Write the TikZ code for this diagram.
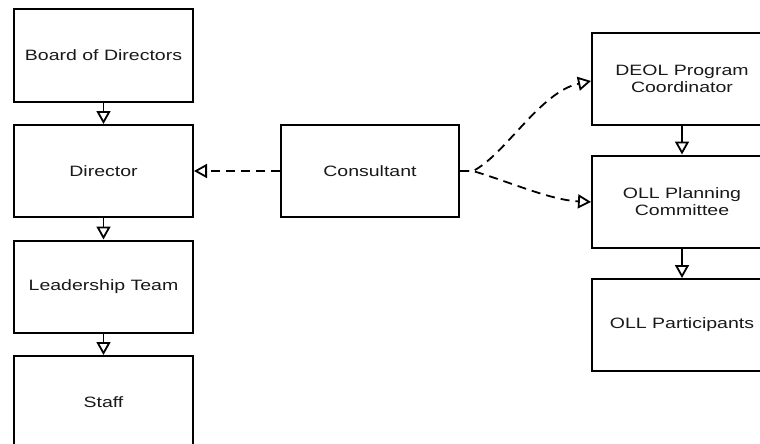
\documentclass[tikz,border=0pt]{standalone}
\usepackage{fontspec}
\setmainfont{Liberation Sans}[FakeStretch=1.3]
\usetikzlibrary{arrows.meta}
\begin{document}
\begin{tikzpicture}[x=1pt,y=-1pt,
  box/.style={draw=black, line width=2pt, fill=white, minimum width=179pt, minimum height=92pt, align=center, inner sep=0pt, font=\fontsize{15}{17.5}\selectfont, text=black!90},
  solidarrow/.style={line width=1.8pt, -{Triangle[open, fill=white, length=13pt, width=14pt]}},
  dasharrow/.style={line width=1.8pt, dash pattern=on 9pt off 6pt, -{Triangle[open, fill=white, length=13pt, width=14pt]}}]
\clip (0,0) rectangle (760,444);
\fill[white] (0,0) rectangle (760,444);
\node[box] (board) at (103.5,55.5) {Board of Directors};
\node[box] (director) at (103.5,171) {Director};
\node[box] (lead) at (103.5,286.5) {Leadership Team};
\node[box] (staff) at (103.5,402) {Staff};
\node[box, minimum width=178pt] (cons) at (370,171) {Consultant};
\node[box, minimum width=180pt] (deol) at (682,79) {DEOL Program\\Coordinator};
\node[box, minimum width=180pt] (plan) at (682,201.5) {OLL Planning\\Committee};
\node[box, minimum width=180pt] (part) at (682,325) {OLL Participants};
\draw[solidarrow] (board) -- (director);
\draw[solidarrow] (director) -- (lead);
\draw[solidarrow] (lead) -- (staff);
\draw[solidarrow] (deol) -- (plan);
\draw[solidarrow] (plan) -- (part);
\draw[dasharrow] (cons) -- (director);
\coordinate (split) at (473,171);
\draw[dasharrow] (cons.east) -- (split) .. controls (505,155) and (540,92) .. (deol.west |- 0,81);
\draw[dasharrow] (cons.east) -- (split) .. controls (510,182) and (550,200) .. (plan.west |- 0,202);
\end{tikzpicture}
\end{document}
